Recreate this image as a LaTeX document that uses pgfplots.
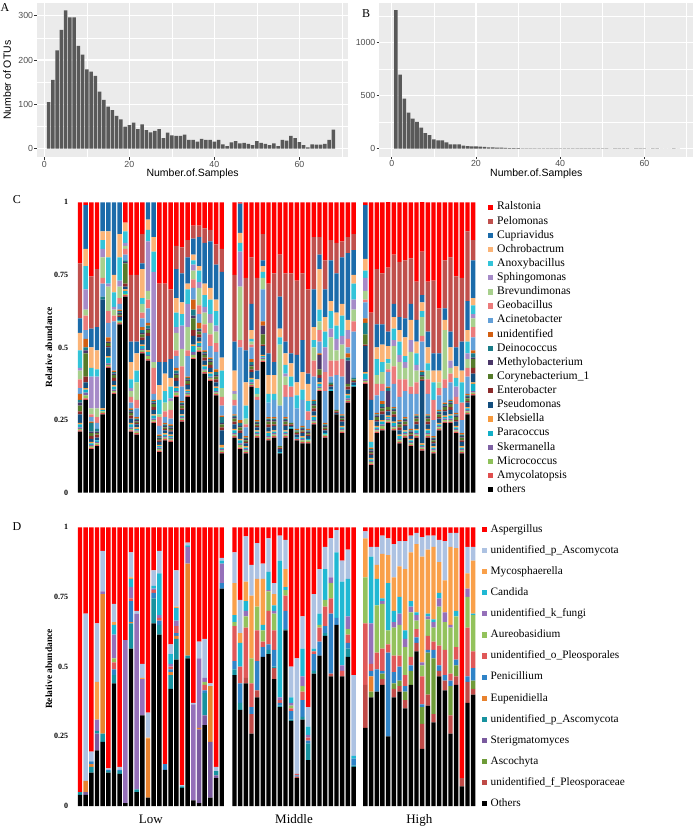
\documentclass[border=0pt]{standalone}
\usepackage{pgfplots}
\pgfplotsset{compat=1.18}
\usepackage{pgfplotstable}
\usepackage{fontspec}
\setmainfont{Liberation Serif}
\newfontfamily\arial{Liberation Sans}
\definecolor{ggbg}{HTML}{EBEBEB}
\definecolor{gghist}{HTML}{595959}
\definecolor{ggtick}{HTML}{333333}
\definecolor{ggtext}{HTML}{4D4D4D}
% C colours
\definecolor{cRa}{HTML}{FF0000}\definecolor{cPe}{HTML}{C0504D}\definecolor{cCu}{HTML}{1B6BAA}
\definecolor{cOc}{HTML}{FBB477}\definecolor{cAn}{HTML}{33C4D9}\definecolor{cSp}{HTML}{A68BC8}
\definecolor{cBr}{HTML}{A8D08D}\definecolor{cGe}{HTML}{EC7B7B}\definecolor{cAc}{HTML}{63A0D8}
\definecolor{cUn}{HTML}{D35F12}\definecolor{cDe}{HTML}{1A7C88}\definecolor{cMe}{HTML}{4A3668}
\definecolor{cCo}{HTML}{557B2A}\definecolor{cEn}{HTML}{8C2A2A}\definecolor{cPs}{HTML}{134E7E}
\definecolor{cKl}{HTML}{F79A3E}\definecolor{cPa}{HTML}{12AFC7}\definecolor{cSk}{HTML}{7F62A4}
\definecolor{cMi}{HTML}{8FC15A}\definecolor{cAm}{HTML}{E04E4E}
% D colours
\definecolor{dAsp}{HTML}{FF0000}\definecolor{dpA}{HTML}{ADC2E2}\definecolor{dMy}{HTML}{F9A04A}
\definecolor{dCa}{HTML}{20B8D3}\definecolor{dkf}{HTML}{9570B9}\definecolor{dAu}{HTML}{93C25C}
\definecolor{doP}{HTML}{E05858}\definecolor{dPe}{HTML}{2F83C7}\definecolor{dEu}{HTML}{E8822E}
\definecolor{dtP}{HTML}{17929F}\definecolor{dSt}{HTML}{7A5A9E}\definecolor{dAs}{HTML}{6E9B38}
\definecolor{dfP}{HTML}{BF4A47}

\pgfplotstableread{
n c
1 105
2 155
3 222
4 268
5 312
6 296
7 296
8 232
9 212
10 179
11 174
12 164
13 129
14 110
15 95
16 87
17 74
18 66
19 50
20 53
21 59
22 44
23 55
24 42
25 37
26 40
27 44
28 24
29 36
30 30
31 29
32 29
33 32
34 20
35 20
36 16
37 22
38 20
39 20
40 16
41 20
42 10
43 6
44 14
45 17
46 12
47 13
48 11
49 8
50 17
51 13
52 11
53 8
54 12
55 6
56 20
57 18
58 29
59 24
60 15
61 8
62 3
63 10
64 9
65 9
66 11
67 20
68 43
}\Atab

\pgfplotstableread{
n c
1 1308
2 698
3 472
4 340
5 283
6 252
7 198
8 148
9 129
10 88
11 79
12 79
13 60
14 41
15 41
16 41
17 28
18 25
19 22
20 22
21 19
22 16
23 13
24 13
25 10
26 10
27 7
28 6
29 5
30 5
31 4
32 4
33 4
34 3
35 2
36 2
37 3
38 2
39 3
40 4
41 3
42 2
43 2
44 3
45 2
46 3
47 2
48 2
49 2
50 3
51 2
52 1
53 2
54 2
55 3
56 2
57 1
58 2
59 2
60 2
61 1
62 2
63 2
64 1
65 1
66 1
67 2
68 1
}\Btab

\pgfplotstableread{
x O Amy Mic Ske Par Kle Pse Ent Cor Met Dei Uni Ac Ge Br Sp An Oc Cu Pe Ra
0 0.21 0.005 0.005 0.005 0.01 0.005 0.03 0.01 0.02 0.01 0.01 0.02 0.02 0.03 0.03 0.01 0.06 0.06 0.05 0.19 0.21
1 0.32 0.005 0.01 0.01 0.01 0.005 0.02 0.02 0.08 0.01 0.01 0.03 0.03 0.05 0.02 0.07 0.08 0.06 0.15 0 0.01
2 0.15 0.005 0.005 0.005 0.005 0.005 0.01 0.01 0.01 0.005 0.03 0.005 0.015 0.01 0.02 0.11 0.03 0.07 0.065 0.18 0.255
3 0.16 0.005 0.005 0.005 0.005 0 0.01 0.01 0.005 0.005 0.01 0 0.02 0.02 0.03 0.11 0.025 0.065 0.08 0.20 0.23
4 0.27 0.005 0.005 0 0.005 0.005 0.375 0 0 0 0.01 0 0.045 0.02 0.07 0.03 0.03 0.03 0.10 0 0
5 0.43 0.005 0.005 0.005 0.02 0.005 0.03 0.005 0.01 0.005 0 0.015 0.05 0.04 0.085 0.01 0.09 0.09 0.10 0 0
6 0.34 0.005 0.005 0.005 0.01 0.005 0.015 0.01 0.01 0.005 0.005 0.005 0.17 0.02 0.02 0.01 0.05 0.06 0.25 0 0
7 0.58 0.005 0.005 0 0.005 0 0.01 0.005 0.005 0.005 0.005 0.005 0.02 0.02 0.04 0.02 0.08 0.08 0.11 0 0
8 0.675 0.005 0.005 0 0.01 0.005 0.01 0.01 0.07 0.005 0.005 0 0.02 0.02 0.01 0.01 0.04 0.03 0 0 0.07
9 0.21 0.005 0.005 0.005 0.01 0.005 0.015 0.01 0.01 0.005 0.005 0.005 0.02 0.02 0.02 0.01 0.03 0.06 0.07 0.23 0.25
10 0.20 0.005 0.005 0.005 0.005 0.005 0.01 0.005 0.005 0.005 0.005 0.005 0.03 0.03 0.06 0 0.04 0.06 0.04 0.23 0.25
11 0.48 0.005 0.005 0.005 0.01 0.005 0.015 0.01 0.01 0.005 0.01 0.01 0.03 0.02 0.03 0 0.02 0.10 0.02 0.10 0.11
12 0.455 0.005 0.01 0.005 0.01 0.005 0.05 0.01 0.01 0.005 0.01 0.01 0.05 0.03 0.03 0.17 0.04 0.035 0.06 0 0
13 0.24 0.005 0.005 0.005 0.01 0.005 0.015 0.01 0.01 0.005 0.005 0.005 0.02 0.09 0.02 0.31 0.07 0.05 0.12 0 0
14 0.14 0.005 0.005 0.005 0.005 0.005 0.01 0.005 0.005 0.005 0.005 0.005 0.03 0.03 0.01 0 0.05 0.05 0.08 0.27 0.28
15 0.18 0.005 0.005 0.005 0.005 0.005 0.01 0.005 0.005 0.005 0.005 0.005 0.02 0.02 0.03 0 0.04 0.06 0.04 0.27 0.28
16 0.175 0.005 0.005 0.005 0.005 0.005 0.01 0.005 0.005 0.005 0.005 0.005 0.02 0.03 0.03 0.01 0.04 0.03 0.065 0.24 0.30
17 0.33 0.005 0.01 0.005 0.01 0.005 0.02 0.01 0.01 0.005 0.01 0.01 0.04 0.02 0.06 0.02 0.05 0.05 0.10 0.08 0.15
18 0.245 0.005 0.005 0.005 0.005 0.005 0.015 0.005 0.01 0.005 0.005 0.005 0.05 0.07 0.06 0.08 0.04 0.04 0.10 0.09 0.155
19 0.33 0.005 0.005 0.005 0.005 0.005 0.015 0.005 0.01 0.005 0.005 0.005 0.07 0.02 0.08 0.08 0.05 0.02 0.09 0.06 0.13
20 0.46 0.005 0.01 0.01 0.02 0.005 0.03 0.02 0.04 0.01 0.02 0.035 0.04 0.03 0.03 0.02 0.015 0.02 0.055 0.045 0.08
21 0.485 0.005 0.01 0.005 0.01 0.005 0.015 0.01 0.01 0.005 0.005 0.02 0.03 0.03 0.06 0.02 0.04 0.015 0.10 0.04 0.08
22 0.41 0.005 0.005 0.005 0.01 0.005 0.015 0.01 0.01 0.005 0.005 0.005 0.06 0.03 0.04 0.02 0.04 0.04 0.14 0.05 0.09
23 0.385 0.005 0.005 0.005 0.01 0.005 0.015 0.01 0.01 0.005 0.005 0.005 0.04 0.04 0.04 0.03 0.05 0.04 0.16 0.04 0.095
24 0.335 0.005 0.005 0.005 0.01 0.005 0.015 0.01 0.01 0.005 0.01 0.01 0.06 0.03 0.04 0.02 0.05 0.04 0.12 0.07 0.145
25 0.135 0.005 0.005 0.005 0.005 0.01 0.05 0.01 0.01 0.005 0.02 0.005 0.035 0.03 0.03 0 0.06 0.045 0.295 0.08 0.16
27.25 0.19 0.005 0.005 0.005 0.01 0.005 0.015 0.01 0.01 0.005 0.005 0.005 0.03 0.02 0.02 0.01 0 0.07 0.10 0.23 0.25
28.25 0.15 0.005 0.01 0.005 0.01 0.005 0.02 0.01 0.01 0.005 0.01 0.01 0.25 0.025 0.185 0.12 0.03 0.035 0.10 0 0.005
29.25 0.135 0.005 0.005 0.005 0.005 0.005 0.01 0.005 0.005 0.005 0.005 0.005 0.03 0.01 0.02 0 0.045 0.08 0.11 0.25 0.26
30.25 0.365 0.005 0.005 0.005 0.01 0.005 0.02 0.01 0.01 0.005 0.01 0.01 0.04 0.01 0.01 0 0.01 0.03 0.09 0.16 0.19
31.25 0.19 0.005 0.005 0.005 0.005 0.005 0.01 0.005 0.005 0.005 0.005 0.005 0.07 0.01 0.01 0 0.02 0.03 0.03 0.32 0.26
32.25 0.45 0.005 0.005 0.005 0.005 0.005 0.03 0.005 0.035 0.03 0 0.015 0.11 0 0.04 0 0.02 0.02 0.02 0.09 0.11
33.25 0.18 0.005 0.005 0.005 0.01 0.005 0.015 0.01 0.01 0.005 0.005 0.005 0.05 0 0 0 0.03 0.065 0.075 0.24 0.28
34.25 0.19 0.005 0.005 0.005 0.005 0.005 0.015 0.005 0.01 0.005 0.005 0.005 0.06 0 0 0 0.02 0.065 0.045 0.305 0.245
35.25 0.135 0 0 0 0.005 0 0.01 0.005 0.005 0 0 0 0.14 0 0.21 0 0.025 0.03 0.11 0.145 0.18
36.25 0.19 0.005 0.005 0.005 0.005 0.005 0.015 0.005 0.01 0.005 0.005 0.005 0.07 0.04 0.03 0.01 0.03 0.04 0.04 0.235 0.245
37.25 0.22 0 0 0 0.005 0 0.005 0.005 0.005 0 0 0 0.09 0.035 0 0 0.035 0.045 0.035 0.275 0.245
38.25 0.18 0.005 0 0 0.005 0 0.01 0.005 0.005 0 0.005 0.005 0.07 0 0 0 0.045 0.045 0.095 0.255 0.27
39.25 0.17 0.005 0.005 0.005 0.005 0.005 0.01 0.005 0.005 0.005 0.005 0.005 0.09 0 0 0 0.035 0.06 0.11 0.23 0.245
40.25 0.17 0.005 0.005 0 0.005 0 0.01 0.005 0.005 0.005 0.005 0.005 0.03 0.03 0 0 0.035 0.06 0.035 0.29 0.30
41.25 0.235 0.005 0.005 0.005 0.01 0.005 0.015 0.01 0.01 0.005 0.01 0.005 0.08 0.055 0.045 0 0.025 0.045 0.13 0.18 0.12
42.25 0.35 0.005 0.005 0.005 0.01 0.005 0.015 0.01 0.02 0.05 0 0.005 0.04 0.04 0.03 0 0.04 0.14 0.05 0.06 0.12
43.25 0.19 0.005 0.005 0 0.005 0 0.01 0.005 0.005 0.005 0.005 0.005 0.11 0.065 0 0.085 0.055 0.05 0.095 0.10 0.20
44.25 0.35 0 0 0 0.005 0 0.01 0.005 0.005 0 0.005 0 0.02 0.055 0.08 0.03 0.06 0.035 0.14 0.07 0.13
45.25 0.27 0 0 0 0 0 0.005 0.005 0.005 0 0 0 0.12 0.05 0.035 0.04 0.045 0.045 0.135 0.105 0.14
46.25 0.205 0.005 0.005 0.005 0.005 0.005 0.015 0.005 0.005 0.005 0.005 0.005 0.13 0.06 0.05 0.03 0.07 0.04 0.16 0.055 0.135
47.25 0.31 0.005 0.005 0.005 0.01 0.005 0.015 0.01 0.01 0.08 0.01 0.015 0.02 0.03 0 0.03 0 0.035 0.23 0.055 0.12
48.25 0.365 0 0 0 0.005 0 0.01 0.005 0.005 0 0.005 0 0.16 0.035 0.04 0.035 0.055 0.03 0.085 0.055 0.11
50.35 0.375 0.005 0.005 0.005 0.02 0.005 0.09 0.005 0.035 0 0.04 0.015 0.055 0.01 0.03 0.045 0.025 0.04 0.185 0 0.01
51.35 0.095 0.005 0.005 0.005 0.005 0.005 0.01 0.005 0.005 0.005 0.005 0.005 0 0 0 0 0.02 0.075 0.07 0.30 0.38
52.35 0.205 0.005 0.005 0.005 0.005 0.005 0.015 0.005 0.01 0.005 0.005 0.005 0.06 0.04 0.03 0 0.055 0.04 0.08 0.19 0.23
53.35 0.215 0.005 0.01 0.005 0.01 0.005 0.02 0.01 0.01 0.005 0.01 0.01 0.035 0.025 0.04 0 0.035 0.06 0.07 0.175 0.245
54.35 0.24 0.005 0.005 0.005 0.005 0.005 0.015 0.005 0.01 0.055 0.01 0.005 0.05 0.01 0.02 0 0.015 0.045 0.05 0.22 0.23
55.35 0.215 0.005 0.005 0.005 0.01 0.005 0.015 0.01 0.01 0.005 0.005 0.005 0.08 0.06 0.07 0.02 0.04 0.04 0.045 0.17 0.18
56.35 0.17 0.005 0.005 0.005 0.01 0.005 0.015 0.01 0.01 0.005 0.005 0.005 0.08 0.06 0.06 0.025 0.045 0.04 0.045 0.19 0.205
57.35 0.19 0.005 0.005 0.005 0.005 0.005 0.015 0.005 0.01 0.005 0.005 0.005 0.09 0.04 0.04 0.02 0.02 0.065 0.065 0.20 0.20
58.35 0.16 0.005 0.005 0.005 0.005 0.005 0.01 0.005 0.005 0.005 0.005 0.005 0.12 0.025 0.12 0.04 0 0.07 0.055 0.157 0.193
59.35 0.19 0.005 0.005 0.005 0.01 0.005 0.015 0.01 0.01 0.005 0.005 0.005 0.07 0.04 0.04 0.02 0.04 0.04 0.075 0.132 0.273
60.35 0.145 0.005 0.005 0.005 0.005 0.005 0.215 0.005 0.01 0.005 0.01 0.005 0.10 0.02 0.065 0 0.02 0.03 0.025 0.15 0.175
61.35 0.19 0.005 0.005 0.005 0.01 0.005 0.015 0.01 0.01 0.005 0.005 0.005 0.07 0.05 0.03 0 0.025 0.055 0.055 0.172 0.273
62.35 0.135 0.005 0.005 0.005 0.005 0.005 0.01 0.005 0.005 0.005 0.005 0.005 0.055 0.07 0 0 0.06 0.04 0.06 0.25 0.27
63.35 0.215 0.005 0.005 0.005 0.005 0.005 0.015 0.005 0.01 0.005 0.005 0.005 0.05 0.025 0.02 0 0 0.04 0.06 0.155 0.365
64.35 0.24 0.005 0.005 0.005 0.005 0.005 0.015 0.005 0.01 0.005 0.005 0.005 0.05 0.03 0.17 0 0 0.035 0.04 0.165 0.20
65.35 0.24 0.005 0.005 0.005 0.01 0.005 0.015 0.01 0.01 0.005 0.005 0.005 0.06 0.03 0.02 0.025 0 0.045 0.055 0.255 0.19
66.35 0.205 0.005 0.005 0.005 0.005 0.005 0.015 0.005 0.01 0.005 0.005 0.005 0.03 0.025 0 0.035 0.03 0.04 0.065 0.245 0.255
67.35 0.135 0.005 0.005 0.005 0.005 0.005 0.015 0.005 0.01 0.005 0.005 0.005 0.045 0.06 0 0 0.07 0.04 0.10 0.22 0.26
68.35 0.27 0.005 0.005 0.005 0.005 0.005 0.015 0.005 0.01 0.005 0.005 0.005 0.06 0.03 0.03 0.02 0.04 0.04 0.10 0.24 0.10
69.35 0.335 0.005 0.005 0.005 0.025 0.005 0.03 0.02 0.03 0.005 0.015 0.01 0.045 0.035 0.03 0.015 0.03 0.025 0.13 0.07 0.13
}\Ctab

\pgfplotstableread{
x O fP As St tP Eu Pe oP Au kf Ca My pA Asp
0 0.04 0 0 0 0.01 0 0 0 0 0 0 0 0 0.95
1 0.04 0 0 0.01 0 0.04 0 0 0 0 0 0 0.60 0.31
2 0.12 0 0 0 0.02 0.01 0.01 0 0 0 0 0 0.035 0.805
3 0.20 0 0 0.06 0.01 0 0 0 0 0.04 0 0.135 0.21 0.345
4 0.23 0 0 0 0.03 0.50 0 0 0 0.01 0 0 0.145 0.085
5 0.12 0 0 0 0.005 0 0.005 0 0 0 0 0 0.005 0.865
6 0.44 0 0 0 0.03 0 0.02 0.025 0.015 0.085 0.035 0.01 0.065 0.275
7 0.115 0 0 0 0.01 0 0.005 0 0 0 0 0 0.01 0.86
8 0.01 0 0 0 0 0 0 0 0 0.585 0 0 0 0.405
9 0.565 0 0 0 0.09 0.005 0.075 0.01 0 0.04 0.03 0.005 0.09 0.09
10 0.05 0 0 0 0.01 0 0 0 0 0.63 0 0 0.01 0.30
11 0.325 0 0 0 0 0 0 0 0 0.13 0 0.005 0.05 0.49
12 0.03 0 0 0 0 0.21 0 0 0 0 0 0.005 0.09 0.665
13 0.655 0 0 0 0.09 0 0.02 0.01 0 0.005 0.01 0 0.055 0.155
14 0.615 0 0 0 0.035 0 0.015 0.01 0 0.01 0.15 0 0.08 0.085
15 0.13 0 0 0 0 0 0.02 0 0 0 0 0 0 0.85
16 0.42 0 0 0 0.05 0.01 0.01 0.01 0 0.01 0.035 0 0.035 0.42
17 0.525 0 0 0 0.075 0.01 0.01 0.025 0 0.02 0.045 0.005 0.13 0.155
18 0.065 0 0 0 0.005 0 0 0 0 0 0 0 0.005 0.925
19 0.53 0 0 0 0.01 0.33 0 0 0 0.06 0.005 0 0.01 0.055
20 0.02 0 0 0 0 0 0 0 0 0.345 0 0 0.005 0.63
21 0.01 0 0 0.265 0 0.005 0 0 0 0.25 0 0 0.06 0.41
22 0.29 0 0 0.035 0.08 0 0.01 0.02 0.01 0.015 0 0 0.14 0.40
23 0.03 0 0 0.20 0 0.20 0 0 0 0 0 0 0.01 0.56
24 0.10 0 0 0.01 0.015 0 0 0 0 0 0 0 0.015 0.86
25 0.78 0 0 0 0 0 0.02 0 0 0.07 0.01 0 0.01 0.11
27.25 0.47 0 0 0 0.02 0 0.03 0.125 0.015 0 0.025 0.115 0.11 0.09
28.25 0.345 0 0 0 0.025 0 0.07 0.06 0 0 0.085 0.035 0.12 0.26
29.25 0.44 0.02 0 0 0 0 0 0.18 0.04 0.02 0.035 0.07 0.162 0.033
30.25 0.26 0.07 0 0 0 0 0.025 0.085 0.09 0 0 0.225 0.11 0.135
31.25 0.39 0.025 0 0 0 0 0.105 0.11 0.085 0 0 0.10 0.128 0.057
32.25 0.535 0 0 0 0 0 0.035 0.02 0.04 0 0.02 0.165 0.055 0.13
33.25 0.545 0 0 0 0.015 0 0.02 0.12 0.07 0.005 0.065 0 0.12 0.04
34.25 0.455 0.04 0 0 0.005 0 0.06 0.07 0.06 0.01 0.02 0.04 0.04 0.20
35.25 0.355 0 0 0 0.005 0 0.01 0.01 0 0.01 0.49 0 0.09 0.03
36.25 0.63 0 0 0 0.005 0 0.065 0.055 0.02 0 0.01 0.065 0.105 0.045
37.25 0.305 0 0 0 0.005 0 0.03 0.01 0.01 0.01 0.02 0 0.11 0.50
38.25 0.10 0.005 0 0 0 0 0.005 0.005 0 0 0 0 0.415 0.47
39.25 0.31 0 0 0 0.01 0 0.06 0.03 0.02 0.035 0.10 0 0.115 0.32
40.25 0.165 0 0 0 0.06 0 0.01 0.01 0 0.01 0.03 0 0.07 0.645
41.25 0.475 0 0 0 0.01 0 0.06 0.01 0 0 0.01 0 0.195 0.24
42.25 0.54 0 0 0 0 0 0.05 0.05 0.01 0 0.04 0 0.16 0.15
43.25 0.61 0 0 0 0.01 0 0.025 0.07 0.025 0 0.11 0 0.08 0.07
44.25 0.465 0.01 0 0 0 0 0.215 0.055 0.055 0.02 0 0 0.14 0.04
45.25 0.65 0 0 0 0 0 0.025 0 0 0 0.235 0 0.08 0.01
46.25 0.465 0 0 0 0 0 0 0.02 0 0.02 0.30 0 0.075 0.12
47.25 0.535 0 0 0 0.03 0 0.02 0.03 0.02 0.045 0.135 0 0.105 0.08
48.25 0.14 0 0 0 0.005 0 0.025 0 0 0 0.01 0 0.29 0.53
50.35 0.28 0.155 0 0 0 0 0 0.22 0.165 0 0 0.14 0.025 0.015
51.35 0.39 0 0.02 0 0 0.055 0.02 0.025 0 0.145 0.24 0 0.035 0.07
52.35 0.41 0 0 0 0 0 0.08 0.06 0.17 0 0.095 0.05 0.065 0.07
53.35 0.435 0.02 0.02 0 0 0 0.01 0.08 0.16 0.01 0.01 0.16 0.065 0.03
54.35 0.25 0 0 0 0 0 0.30 0.03 0.05 0 0.17 0.10 0.06 0.04
55.35 0.39 0.03 0.02 0 0 0 0.04 0.06 0.10 0.02 0.04 0.12 0.12 0.06
56.35 0.41 0.02 0.02 0 0 0 0.05 0.04 0.11 0.04 0.06 0.11 0.09 0.05
57.35 0.35 0.03 0.03 0 0 0 0.02 0.04 0.10 0.03 0.03 0.22 0.10 0.05
58.35 0.435 0 0.05 0 0 0 0.02 0.03 0.16 0.02 0.02 0.175 0.06 0.03
59.35 0.555 0.03 0 0 0 0 0.02 0.03 0.03 0.02 0.01 0.245 0.04 0.02
60.35 0.205 0.09 0.06 0 0 0 0.01 0.10 0.04 0.01 0 0.38 0.07 0.035
61.35 0.36 0.04 0.15 0 0 0 0.01 0.05 0.06 0.01 0.01 0.23 0.05 0.03
62.35 0.30 0.03 0.20 0 0 0 0.03 0.03 0.05 0.02 0.01 0.26 0.04 0.03
63.35 0.465 0.02 0 0 0 0 0.02 0.07 0.14 0.03 0.02 0.11 0.08 0.045
64.35 0.415 0.035 0 0 0 0 0.02 0.09 0.10 0.035 0 0.115 0.14 0.05
65.35 0.26 0.065 0.105 0 0 0 0.02 0.025 0.165 0.01 0 0.28 0.05 0.02
66.35 0.435 0.03 0.04 0 0 0 0.02 0.045 0.11 0 0.02 0.225 0.055 0.02
67.35 0.07 0.03 0 0 0 0 0 0 0 0 0 0 0 0.90
68.35 0.37 0.075 0 0 0 0 0.02 0.175 0.11 0.03 0 0.055 0.095 0.07
69.35 0.40 0.02 0.03 0 0 0 0.045 0.06 0.13 0 0.005 0.19 0.05 0.07
}\Dtab

\newcommand{\cbar}[3]{\addplot[fill=#1,draw=none] table[x=x,y=#2]{\Ctab}; \addlegendentry{#3}}
\newcommand{\dbar}[3]{\addplot[fill=#1,draw=none] table[x=x,y=#2]{\Dtab}; \addlegendentry{#3}}

\pgfplotsset{
  ggaxis/.style={
    anchor=south west, scale only axis,
    axis background/.style={fill=ggbg},
    axis line style={draw=none},
    xtick={0,20,40,60}, minor xtick={10,30,50,70},
    grid=both,
    major grid style={draw=white, line width=1.07pt},
    minor grid style={draw=white, line width=0.53pt},
    xtick pos=bottom, ytick pos=left, tick align=outside,
    major tick length=2.75pt, minor tick length=0pt,
    major tick style={draw=ggtick, line width=0.53pt},
    tick label style={font=\arial\fontsize{8.8}{10}\selectfont, text=ggtext},
    xticklabel style={inner sep=0.8pt},
    yticklabel style={inner sep=1pt},
    /pgf/number format/assume math mode=true,
    /pgf/number format/1000 sep={},
    label style={font=\arial\fontsize{10.5}{12}\selectfont},
    enlargelimits=false,
  },
  barpanel/.style={
    anchor=south west, scale only axis, width=405.4pt,
    xmin=-1, xmax=70.5, ymin=0, ymax=1, enlargelimits=false,
    ybar stacked, bar width=0.78,
    legend image code/.code={\fill[##1] (0pt,-2.6pt) rectangle (5.2pt,2.6pt);},
    axis line style={draw=none},
    ytick={0,0.25,0.5,0.75,1}, yticklabels={0,0.25,0.5,0.75,1},
    major tick length=0pt,
    yticklabel style={font=\fontsize{8}{9}\selectfont\bfseries, anchor=east, inner sep=0pt, xshift=-6pt},
    ylabel={Relative abundance},
    reverse legend, legend cell align=left,
  },
}

\begin{document}
\begin{tikzpicture}
\useasboundingbox (0pt,0pt) rectangle (697pt,830pt);

% ---------- A ----------
\begin{axis}[ggaxis, at={(37pt,672.7pt)}, width=311.3pt, height=154pt,
  xmin=-1.72, xmax=71.5, ymin=-19.4, ymax=328,
  ytick={0,100,200,300}, minor ytick={50,150,250},
  xlabel={Number.of.Samples}, ylabel={Number of OTUs},
  xlabel style={at={(axis description cs:0.5,-0.11)}, anchor=center},
  ylabel style={at={(axis description cs:-0.096,0.5)}, anchor=center},
]
\addplot[ybar, bar width=0.85, bar shift=0pt, fill=gghist, draw=none] table[x=n,y=c]{\Atab};
\end{axis}

% ---------- B ----------
\begin{axis}[ggaxis, at={(379.3pt,673.3pt)}, width=314pt, height=153.4pt,
  xmin=-2.95, xmax=71.6, ymin=-75.5, ymax=1371.7,
  ytick={0,500,1000}, minor ytick={250,750,1250},
  xlabel={Number.of.Samples},
  xlabel style={at={(axis description cs:0.5,-0.11)}, anchor=center},
]
\addplot[ybar, bar width=0.85, bar shift=0pt, fill=gghist, draw=none] table[x=n,y=c]{\Btab};
\end{axis}

% ---------- C ----------
\begin{axis}[barpanel, at={(74.3pt,337.3pt)}, height=290.4pt,
  xtick=\empty,
  ylabel style={font=\fontsize{9.5}{11}\selectfont\bfseries, at={(axis description cs:-0.0624,0.5)}, anchor=center},
  legend style={at={(1.021,1.0014)}, anchor=north west, draw=none, fill=none,
    inner sep=0pt, outer sep=0pt, row sep=3.63pt, column sep=3.8pt,
    nodes={inner sep=0pt, text height=8pt, text depth=2.5pt, anchor=west},
    font=\fontsize{11.6}{13}\selectfont},
]
\cbar{black}{O}{others}
\cbar{cAm}{Amy}{Amycolatopsis}
\cbar{cMi}{Mic}{Micrococcus}
\cbar{cSk}{Ske}{Skermanella}
\cbar{cPa}{Par}{Paracoccus}
\cbar{cKl}{Kle}{Klebsiella}
\cbar{cPs}{Pse}{Pseudomonas}
\cbar{cEn}{Ent}{Enterobacter}
\cbar{cCo}{Cor}{Corynebacterium\_1}
\cbar{cMe}{Met}{Methylobacterium}
\cbar{cDe}{Dei}{Deinococcus}
\cbar{cUn}{Uni}{unidentified}
\cbar{cAc}{Ac}{Acinetobacter}
\cbar{cGe}{Ge}{Geobacillus}
\cbar{cBr}{Br}{Brevundimonas}
\cbar{cSp}{Sp}{Sphingomonas}
\cbar{cAn}{An}{Anoxybacillus}
\cbar{cOc}{Oc}{Ochrobactrum}
\cbar{cCu}{Cu}{Cupriavidus}
\cbar{cPe}{Pe}{Pelomonas}
\cbar{cRa}{Ra}{Ralstonia}
\end{axis}

% ---------- D ----------
\begin{axis}[barpanel, at={(74.3pt,24pt)}, height=278.7pt,
  xtick={12.5,37.75,59.85}, xticklabels={Low,Middle,High},
  xticklabel style={font=\fontsize{13}{15}\selectfont, anchor=base, yshift=-17pt},
  ylabel style={font=\fontsize{9.5}{11}\selectfont\bfseries, at={(axis description cs:-0.0624,0.4916)}, anchor=center},
  legend style={at={(1.0064,1.011)}, anchor=north west, draw=none, fill=none,
    inner sep=0pt, outer sep=0pt, row sep=10.6pt, column sep=3.2pt,
    nodes={inner sep=0pt, text height=8pt, text depth=2.5pt, anchor=west},
    font=\fontsize{11.3}{13}\selectfont},
]
\dbar{black}{O}{Others}
\dbar{dfP}{fP}{unidentified\_f\_Pleosporaceae}
\dbar{dAs}{As}{Ascochyta}
\dbar{dSt}{St}{Sterigmatomyces}
\dbar{dtP}{tP}{unidentified\_p\_Ascomycota}
\dbar{dEu}{Eu}{Eupenidiella}
\dbar{dPe}{Pe}{Penicillium}
\dbar{doP}{oP}{unidentified\_o\_Pleosporales}
\dbar{dAu}{Au}{Aureobasidium}
\dbar{dkf}{kf}{unidentified\_k\_fungi}
\dbar{dCa}{Ca}{Candida}
\dbar{dMy}{My}{Mycosphaerella}
\dbar{dpA}{pA}{unidentified\_p\_Ascomycota}
\dbar{dAsp}{Asp}{Aspergillus}
\end{axis}

% panel letters
\node[font=\fontsize{12}{14}\selectfont] at (5pt,822.2pt) {A};
\node[font=\fontsize{12}{14}\selectfont] at (366pt,816pt) {B};
\node[font=\fontsize{12}{14}\selectfont] at (17pt,630pt) {C};
\node[font=\fontsize{12}{14}\selectfont] at (17pt,303pt) {D};
\end{tikzpicture}
\end{document}
